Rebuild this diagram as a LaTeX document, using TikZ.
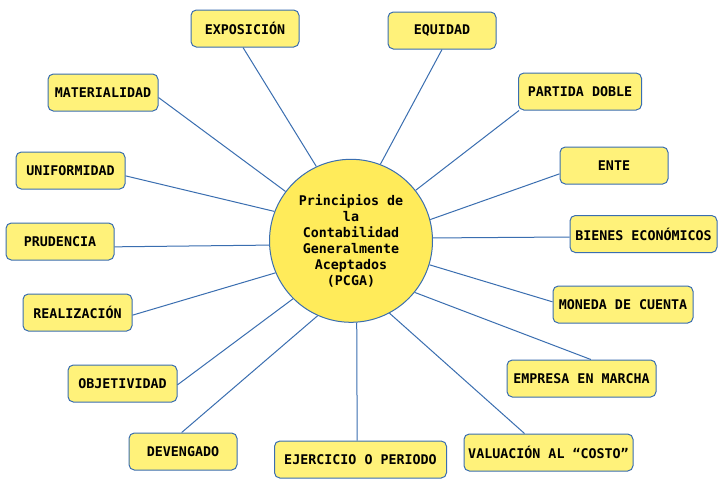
\documentclass[tikz,border=0pt]{standalone}
\usepackage{fontspec}
\setmainfont{DejaVu Sans Mono}
\definecolor{boxfill}{HTML}{FFF27A}
\definecolor{circfill}{HTML}{FFEB5A}
\definecolor{edgeblue}{HTML}{3A6EB0}
\begin{document}
\begin{tikzpicture}[x=0.75pt,y=-0.75pt,
  box/.style={draw=edgeblue,line width=0.75pt,fill=boxfill,rounded corners=4pt,
    minimum height=27.75pt,inner sep=0pt,font=\fontsize{10}{12}\selectfont\bfseries},
  hub/.style={circle,draw=edgeblue,fill=circfill,line width=0.75pt,minimum size=122.25pt,
    inner sep=0pt,align=center,font=\fontsize{10}{12}\selectfont\bfseries},
  link/.style={draw=edgeblue,line width=0.75pt}]
\fill[white] (0,0) rectangle (724,486);
\useasboundingbox (0,0) rectangle (724,486);
\node[hub] (c) at (351,240.8) {Principios de\\la\\Contabilidad\\Generalmente\\Aceptados\\(PCGA)};
\node[box,minimum width=81pt]    (exp) at (245,28.5)  {EXPOSICIÓN};
\node[box,minimum width=81pt]    (equ) at (442,30.5)  {EQUIDAD};
\node[box,minimum width=82.5pt]  (mat) at (103,92.5)  {MATERIALIDAD};
\node[box,minimum width=92.25pt] (par) at (580,91.5)  {PARTIDA DOBLE};
\node[box,minimum width=81.75pt] (uni) at (70.5,170.5) {UNIFORMIDAD};
\node[box,minimum width=81pt]    (ent) at (614,165.5) {ENTE};
\node[box,minimum width=81pt]    (pru) at (60,241.5)  {PRUDENCIA};
\node[box,minimum width=110.25pt] (bie) at (643.5,234) {BIENES ECONÓMICOS};
\node[box,minimum width=81.75pt] (rea) at (77.5,312.5) {REALIZACIÓN};
\node[box,minimum width=105pt]   (mon) at (623,304.5) {MONEDA DE CUENTA};
\node[box,minimum width=81.75pt] (obj) at (122.5,383.5) {OBJETIVIDAD};
\node[box,minimum width=111.75pt] (emp) at (581.5,378.5) {EMPRESA EN MARCHA};
\node[box,minimum width=81pt]    (dev) at (183,451.5) {DEVENGADO};
\node[box,minimum width=129pt]   (eje) at (360.5,459.5) {EJERCICIO O PERIODO};
\node[box,minimum width=126.75pt] (val) at (548.5,452.5) {VALUACIÓN AL “COSTO”};
\draw[link] ([xshift=-1.5pt]exp.south) -- (c.115.4);
\draw[link] (equ.south) -- (c.69.6);
\draw[link] ([yshift=-3.75pt]mat.east) -- (c.143.4);
\draw[link] ([xshift=0.75pt]par.south west) -- (c.38.8);
\draw[link] ([yshift=-4pt]uni.east) -- (c.159.5);
\draw[link] ([yshift=-6.25pt]ent.west) -- (c.15.9);
\draw[link] ([yshift=-4pt]pru.east) -- (c.183.4);
\draw[link] ([yshift=-2.25pt]bie.west) -- (c.2.5);
\draw[link] ([yshift=-2pt]rea.east) -- (c.203.8);
\draw[link] ([yshift=2pt]mon.west) -- (c.343);
\draw[link] ([yshift=-1pt]obj.east) -- (c.225);
\draw[link] ([xshift=7pt]emp.north) -- (c.321.4);
\draw[link] ([xshift=-1pt]dev.north) -- (c.246.7);
\draw[link] ([xshift=-2.5pt]eje.north) -- (c.274);
\draw[link] ([xshift=-18pt]val.north) -- (c.298.3);
\end{tikzpicture}
\end{document}
